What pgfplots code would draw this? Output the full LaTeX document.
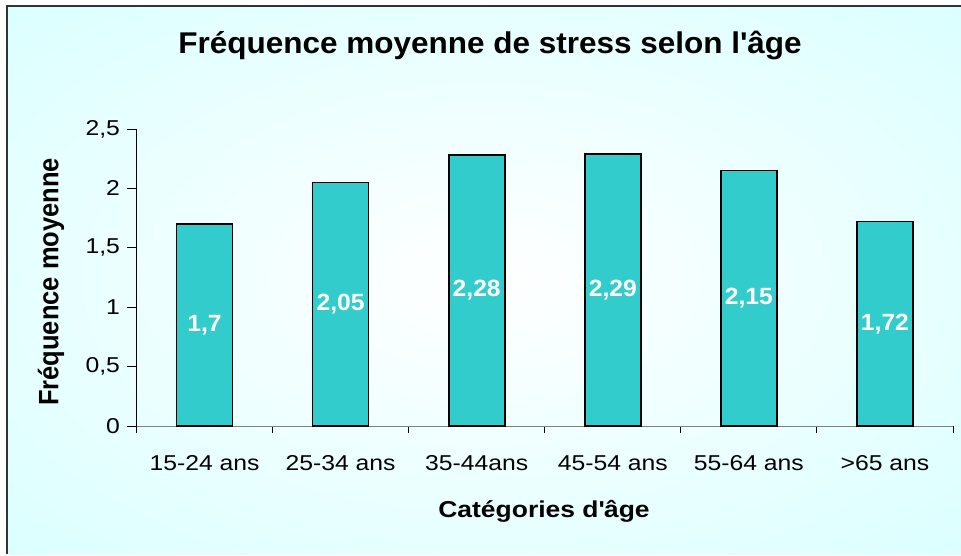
\documentclass[border=0pt]{standalone}
\usepackage{fontspec}
\setmainfont[FakeStretch=1.15]{Liberation Sans}
\newfontfamily\ylabfont{Liberation Sans}
\newfontfamily\titlefont[FakeStretch=1.05]{Liberation Sans}
\usepackage{pgfplots}
\pgfplotsset{compat=1.18}
\definecolor{bgc}{HTML}{CCFFFF}
\definecolor{barc}{HTML}{33CCCC}
\pgfdeclareradialshading{bgshade}{\pgfpoint{0bp}{0bp}}{color(0bp)=(white); color(50bp)=(bgc); color(100bp)=(bgc)}
\begin{document}
\begin{tikzpicture}[x=1pt,y=1pt]
\useasboundingbox (0,0) rectangle (961,555);
\fill[white] (0,0) rectangle (961,555);
\shade[shading=bgshade] (8,1) rectangle (961,548);
\draw[line width=2pt, color=black!80] (7,1) -- (7,548.5) -- (961,548.5);
\begin{axis}[
  at={(136.5pt,129pt)}, anchor=south west,
  scale only axis, width=816.5pt, height=297pt,
  xmin=0.5, xmax=6.5, ymin=0, ymax=2.5,
  ytick={0,0.5,1,1.5,2,2.5},
  axis x line=bottom, axis y line=left,
  x axis line style={-, color=gray, line width=1pt},
  y axis line style={-, black, line width=1pt},
  xtick={1,2,3,4,5,6},
  xticklabels={15-24 ans, 25-34 ans, 35-44ans, 45-54 ans, 55-64 ans, >65 ans},
  major x tick style={draw=none},
  minor xtick={0.5,1.5,2.5,3.5,4.5,5.5,6.5},
  minor tick length=7pt,
  major tick length=9pt,
  minor x tick style={black, line width=1pt},
  major y tick style={black, line width=1pt},
  tick align=outside,
  /pgf/number format/use comma,
  /pgf/number format/assume math mode=true,
  ticklabel style={font=\fontsize{21.5}{25}\selectfont},
  xticklabel style={yshift=-17pt},
  yticklabel style={xshift=-4pt},
  ybar, bar width=56pt,
  nodes near coords,
  visualization depends on={y \as \rawy},
  every node near coord/.append style={font=\titlefont\bfseries\fontsize{23.5}{27}\selectfont, text=white, anchor=center, shift={(axis direction cs:0,-\rawy/2)}},
]
\addplot[fill=barc, draw=black, line width=1.6pt] coordinates {(1,1.7) (2,2.05) (3,2.28) (4,2.29) (5,2.15) (6,1.72)};
\end{axis}
\node[font=\titlefont\bfseries\fontsize{30}{34}\selectfont] at (490,510) {Fréquence moyenne de stress selon l\textquotesingle âge};
\node[font=\bfseries\fontsize{23}{27}\selectfont] at (544,44) {Catégories d\textquotesingle âge};
\node[rotate=90, font=\ylabfont\bfseries\fontsize{25.5}{30}\selectfont] at (51,273) {\scalebox{1}[1.1]{Fréquence moyenne}};
\end{tikzpicture}
\end{document}
